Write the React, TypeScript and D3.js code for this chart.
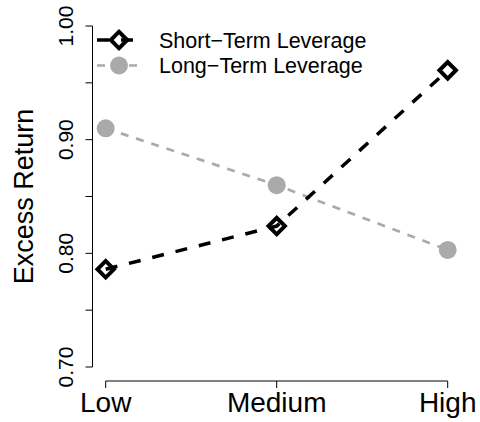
import React from "react";
import * as d3 from "d3";

// Leverage groups on the x axis
const categories = ["Low", "Medium", "High"];
// Excess return by leverage group
const shortTerm = [0.786, 0.824, 0.961];
const longTerm = [0.910, 0.860, 0.803];
// Y axis ticks (labelled every 0.1)
const yTicks = [0.7, 0.75, 0.8, 0.85, 0.9, 0.95, 1.0];
const yLabelTicks = [0.7, 0.8, 0.9, 1.0];
const seriesNames = ["Short\u2212Term Leverage", "Long\u2212Term Leverage"];

const W = 480;
const H = 422;
const FONT = "'Liberation Sans', Arial, Helvetica, sans-serif";
const GREY = "#aaaaaa";

export default function App() {
  const x = d3.scalePoint<string>().domain(categories).range([105.7, 447.7]);
  const y = d3.scaleLinear().domain([0.7, 1.0]).range([367, 26]);
  const axisX = 92.5;
  const axisY = 381;
  const tick = 7;

  const line = d3
    .line<number>()
    .x((_, i) => x(categories[i]) as number)
    .y((d) => y(d));

  const diamond = d3.symbol(d3.symbolSquare, 135)() as string;

  const legX0 = 97;
  const legX1 = 137;
  const legPt = 119;
  const legY = [40, 65.5];

  const Diamond = ({ cx, cy }: { cx: number; cy: number }) => (
    <path
      d={diamond}
      transform={`translate(${cx},${cy}) rotate(45)`}
      fill="none"
      stroke="#000"
      strokeWidth={4}
    />
  );

  return (
    <svg
      width={W}
      height={H}
      style={{ position: "absolute", left: 0, top: 0, background: "#fff" }}
      fontFamily={FONT}
    >
      {/* y axis */}
      <line x1={axisX} x2={axisX} y1={y(0.7)} y2={y(1.0)} stroke="#000" strokeWidth={1} />
      {yTicks.map((t) => (
        <line key={t} x1={axisX - tick} x2={axisX} y1={y(t)} y2={y(t)} stroke="#000" strokeWidth={1} />
      ))}
      {yLabelTicks.map((t) => (
        <text
          key={t}
          transform={`translate(73,${y(t)}) rotate(-90)`}
          textAnchor="middle"
          fontSize={21}
          fill="#000"
        >
          {d3.format(".2f")(t)}
        </text>
      ))}
      <text
        transform={`translate(33,${(y(0.7) + y(1.0)) / 2}) rotate(-90)`}
        textAnchor="middle"
        fontSize={27}
        fill="#000"
      >
        Excess Return
      </text>

      {/* x axis */}
      <line
        x1={x(categories[0])}
        x2={x(categories[categories.length - 1])}
        y1={axisY}
        y2={axisY}
        stroke="#000"
        strokeWidth={1}
      />
      {categories.map((c) => (
        <g key={c}>
          <line x1={x(c)} x2={x(c)} y1={axisY} y2={axisY + tick} stroke="#000" strokeWidth={1} />
          <text x={x(c)} y={412} textAnchor="middle" fontSize={28} fill="#000">
            {c}
          </text>
        </g>
      ))}

      {/* long-term series */}
      <path d={line(longTerm) as string} fill="none" stroke={GREY} strokeWidth={2.7} strokeDasharray="8 8" />
      {longTerm.map((v, i) => (
        <circle key={i} cx={x(categories[i])} cy={y(v)} r={9} fill={GREY} />
      ))}

      {/* short-term series */}
      <path d={line(shortTerm) as string} fill="none" stroke="#000" strokeWidth={3.5} strokeDasharray="12 12" />
      {shortTerm.map((v, i) => (
        <Diamond key={i} cx={x(categories[i]) as number} cy={y(v)} />
      ))}

      {/* legend */}
      <line x1={legX0} x2={legX1} y1={legY[0]} y2={legY[0]} stroke="#000" strokeWidth={3.5} strokeDasharray="12 12" />
      <Diamond cx={legPt} cy={legY[0]} />
      <line x1={legX0} x2={legX1} y1={legY[1]} y2={legY[1]} stroke={GREY} strokeWidth={2.7} strokeDasharray="8 8" />
      <circle cx={legPt} cy={legY[1]} r={9} fill={GREY} />
      {seriesNames.map((s, i) => (
        <text key={s} x={159} y={legY[i] + 7.5} fontSize={21.5} fill="#000">
          {s}
        </text>
      ))}
    </svg>
  );
}
